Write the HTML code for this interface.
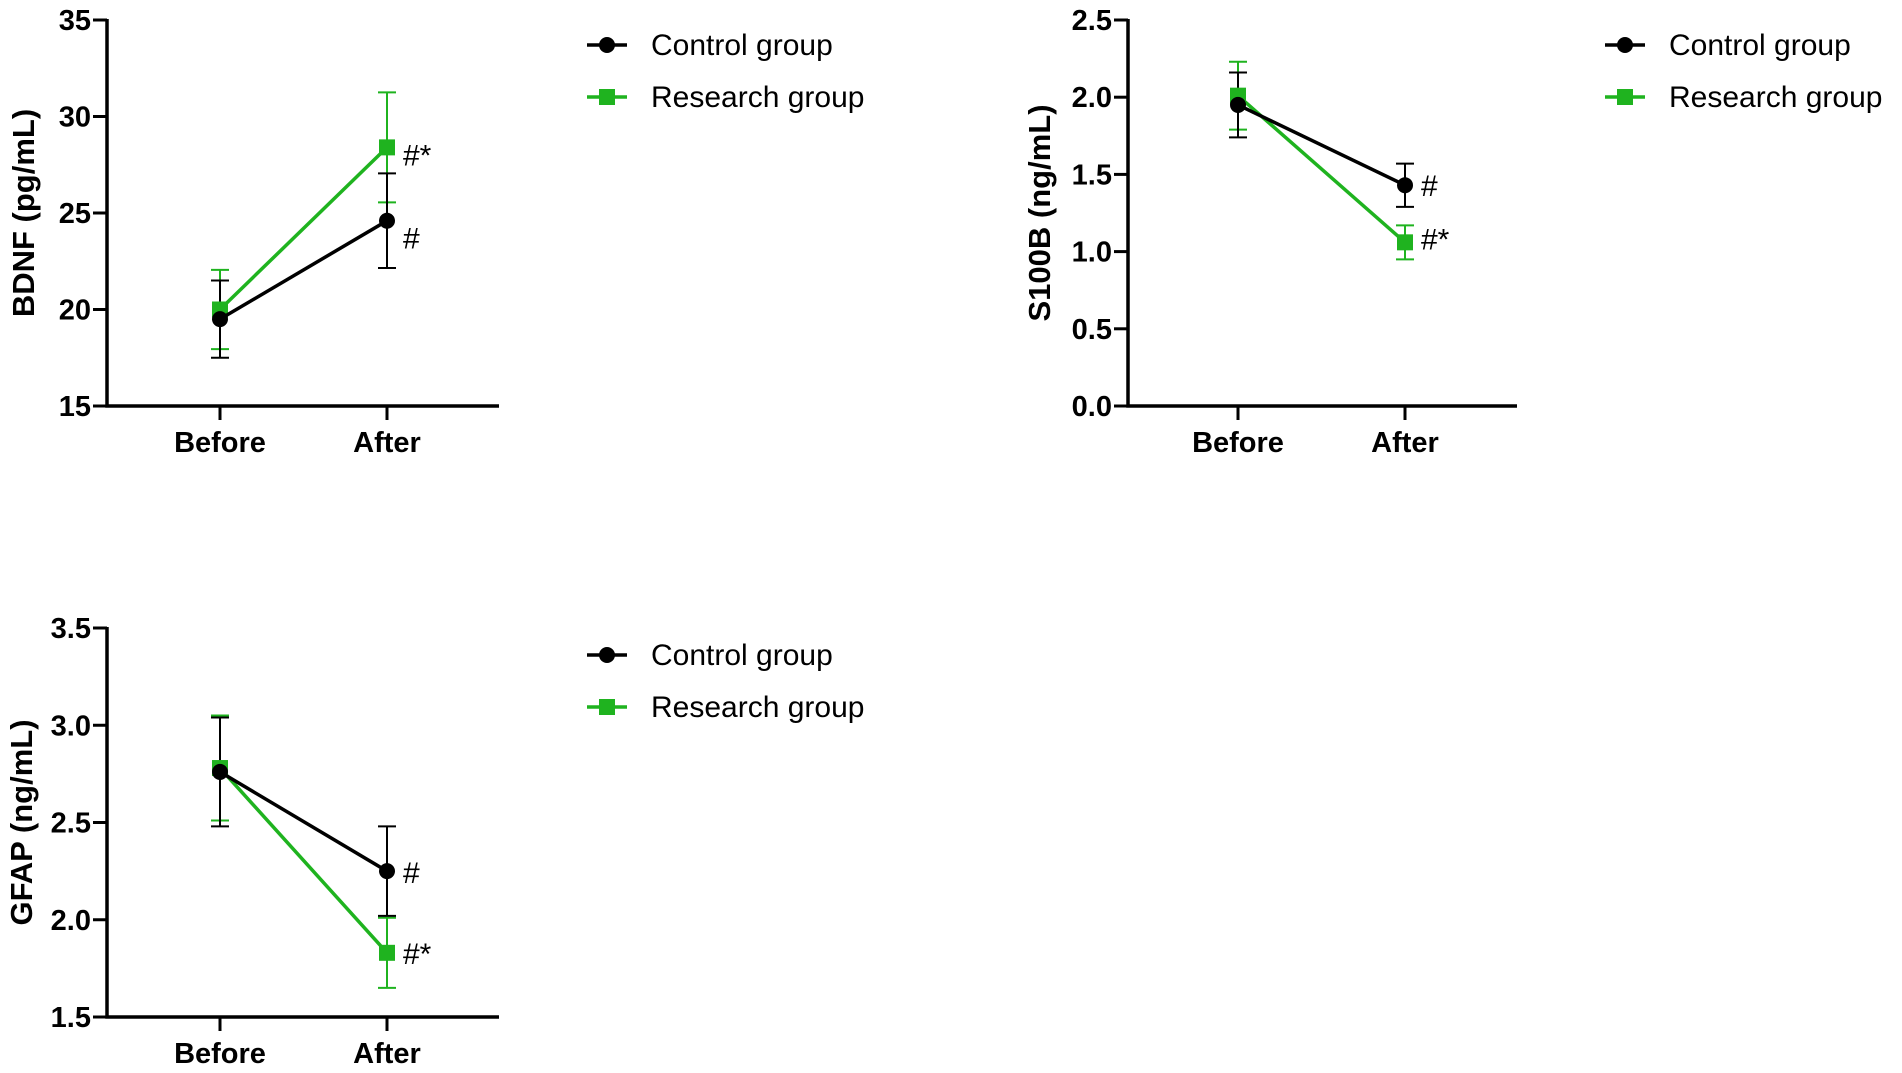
<!DOCTYPE html>
<html><head><meta charset="utf-8"><style>
body{margin:0;background:#fff;}
svg{display:block;font-family:"Liberation Sans",sans-serif;}
.tick{font-weight:bold;font-size:29px;}
</style></head><body>
<svg id="c" width="1902" height="1073" viewBox="0 0 1902 1073"></svg>
<script>
const categories=["Before","After"];
const bdnfControl=[19.5,24.6], bdnfControlErr=[2.0,2.45];
const bdnfResearch=[20.0,28.4], bdnfResearchErr=[2.05,2.85];
const bdnfTicks=[15,20,25,30,35];
const s100Control=[1.95,1.43], s100ControlErr=[0.21,0.14];
const s100Research=[2.01,1.06], s100ResearchErr=[0.22,0.11];
const s100Ticks=[0.0,0.5,1.0,1.5,2.0,2.5];
const gfapControl=[2.76,2.25], gfapControlErr=[0.28,0.23];
const gfapResearch=[2.78,1.83], gfapResearchErr=[0.27,0.18];
const gfapTicks=[1.5,2.0,2.5,3.0,3.5];
const annotControl="#", annotResearch="#*";
const legendLabels=["Control group","Research group"];
const GREEN="#1fb31f";
const svg=document.getElementById('c');
const NS="http://www.w3.org/2000/svg";
function mk(t,a,p){const e=document.createElementNS(NS,t);for(const k in a)e.setAttribute(k,a[k]);(p||svg).appendChild(e);return e;}
function panel(cfg){
  const g=mk('g',{});
  
  
  const t=cfg.ticks, y0=t[0], y1=t[t.length-1];
  const ys=v=>cfg.bottom-(v-y0)/(y1-y0)*(cfg.bottom-cfg.top);
  const xs=i=>cfg.xpos[i];
  const ax=mk('path',{d:`M${cfg.ax} ${cfg.top-1} V${cfg.bottom} H${cfg.axEnd}`,stroke:'#000','stroke-width':3.5,fill:'none'},g);
  
  t.forEach(v=>{
    mk('line',{x1:cfg.ax-14,x2:cfg.ax,y1:ys(v),y2:ys(v),stroke:'#000','stroke-width':3},g);
    const tx=mk('text',{x:cfg.ax-16,y:ys(v)+10,'text-anchor':'end',class:'tick'},g);
    tx.textContent=cfg.fmt(v);
    
  });
  categories.forEach((c,i)=>{
    mk('line',{x1:xs(i),x2:xs(i),y1:cfg.bottom,y2:cfg.bottom+14,stroke:'#000','stroke-width':3},g);
    const tx=mk('text',{x:xs(i),y:cfg.bottom+46,'text-anchor':'middle',class:'tick'},g);
    tx.textContent=c;
    
  });
  const yt=mk('text',{x:0,y:0,transform:`translate(${cfg.titleX},${(cfg.top+cfg.bottom)/2}) rotate(-90)`,'text-anchor':'middle','font-weight':'bold','font-size':'31px'},g);
  yt.textContent=cfg.title;
  
  const series=[[cfg.res,cfg.resErr,GREEN,'research',annotResearch,cfg.resOff],[cfg.con,cfg.conErr,'#000','control',annotControl,cfg.conOff]];
  series.forEach(([vals,errs,col,nm])=>{
    vals.forEach((v,i)=>{
      const e=mk('path',{d:`M${xs(i)} ${ys(v-errs[i])} V${ys(v+errs[i])} M${xs(i)-9} ${ys(v-errs[i])} h18 M${xs(i)-9} ${ys(v+errs[i])} h18`,stroke:col,'stroke-width':2,fill:'none'},g);
      
    });
  });
  series.forEach(([vals,errs,col,nm,an,off])=>{
    const l=mk('polyline',{points:vals.map((v,i)=>xs(i)+','+ys(v)).join(' '),stroke:col,'stroke-width':3.5,fill:'none'},g);
    
    vals.forEach((v,i)=>{
      const m= nm==='control'?mk('circle',{cx:xs(i),cy:ys(v),r:8,fill:col},g):mk('rect',{x:xs(i)-8,y:ys(v)-8,width:16,height:16,fill:col},g);
      
    });
    const a=mk('text',{x:xs(1)+16,y:ys(vals[1])+off,'font-size':'30px'},g);
    a.textContent=an;
    
  });
  legendLabels.forEach((lab,i)=>{
    const ly=cfg.legY+i*52, lx=cfg.legX;
    const lg=mk('g',{},g);
    
    const col=i?GREEN:'#000';
    mk('line',{x1:lx-20,x2:lx+20,y1:ly,y2:ly,stroke:col,'stroke-width':3.5},lg);
    if(i)mk('rect',{x:lx-8,y:ly-8,width:16,height:16,fill:col},lg);else mk('circle',{cx:lx,cy:ly,r:8,fill:col},lg);
    const tx=mk('text',{x:lx+44,y:ly+10,'font-size':'30px'},lg);
    tx.textContent=lab;
  });
}
panel({name:'bdnf-chart',ticks:bdnfTicks,fmt:v=>String(v),top:20,bottom:406,ax:107,axEnd:499,xpos:[220,387],title:'BDNF (pg/mL)',titleX:34,con:bdnfControl,conErr:bdnfControlErr,res:bdnfResearch,resErr:bdnfResearchErr,legX:607,legY:45,conOff:28,resOff:18});
panel({name:'s100b-chart',ticks:s100Ticks,fmt:v=>v.toFixed(1),top:20,bottom:406,ax:1128,axEnd:1517,xpos:[1238,1405],title:'S100B (ng/mL)',titleX:1050,con:s100Control,conErr:s100ControlErr,res:s100Research,resErr:s100ResearchErr,legX:1625,legY:45,conOff:11,resOff:7});
panel({name:'gfap-chart',ticks:gfapTicks,fmt:v=>v.toFixed(1),top:628,bottom:1017,ax:107,axEnd:499,xpos:[220,387],title:'GFAP (ng/mL)',titleX:32,con:gfapControl,conErr:gfapControlErr,res:gfapResearch,resErr:gfapResearchErr,legX:607,legY:655,conOff:12,resOff:11});
</script>
</body></html>
